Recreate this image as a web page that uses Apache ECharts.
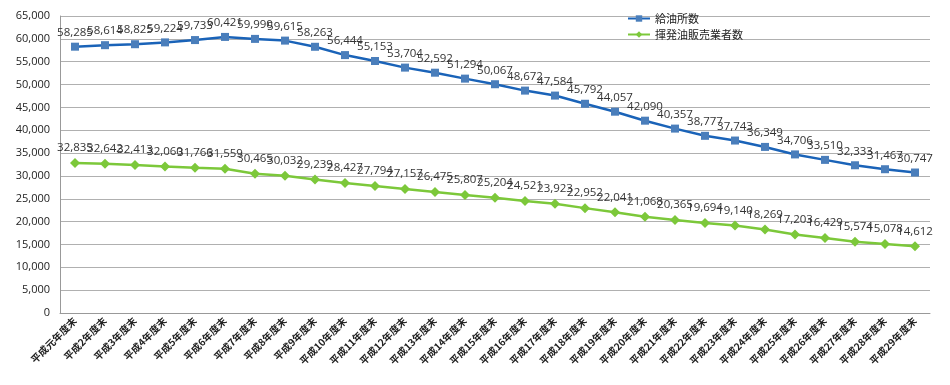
<!DOCTYPE html>
<html><head><meta charset="utf-8">
<script src="https://cdn.jsdelivr.net/npm/echarts@6/dist/echarts.min.js"></script>
<style>html,body{margin:0;padding:0;background:#fff}#c{width:950px;height:385px}</style>
</head><body><div id="c"></div>
<script>
const categories = ['平成元年度末','平成2年度末','平成3年度末','平成4年度末','平成5年度末','平成6年度末','平成7年度末','平成8年度末','平成9年度末','平成10年度末','平成11年度末','平成12年度末','平成13年度末','平成14年度末','平成15年度末','平成16年度末','平成17年度末','平成18年度末','平成19年度末','平成20年度末','平成21年度末','平成22年度末','平成23年度末','平成24年度末','平成25年度末','平成26年度末','平成27年度末','平成28年度末','平成29年度末'];
const stations = [58285,58614,58825,59224,59733,60421,59990,59615,58263,56444,55153,53704,52592,51294,50067,48672,47584,45792,44057,42090,40357,38777,37743,36349,34706,33510,32333,31467,30747];
const sellers = [32835,32642,32413,32060,31766,31559,30465,30032,29239,28427,27794,27157,26475,25807,25204,24521,23923,22952,22041,21068,20365,19694,19140,18269,17203,16429,15574,15078,14612];
const seriesNames = ['給油所数','揮発油販売業者数'];

const font = '"Noto Sans CJK JP", "Open Sans", sans-serif';
const chart = echarts.init(document.getElementById('c'), null, {renderer:'canvas'});
const lbl = {show:true, position:'top', distance:4, fontSize:11.5, color:'#333', fontFamily:'"Open Sans", sans-serif',
  formatter: p => p.value.toLocaleString('en-US')};
chart.setOption({
  animation:false,
  textStyle:{fontFamily:font},
  grid:{left:60, right:20, top:16, bottom:72},
  legend:{orient:'vertical', left:622, top:8, itemGap:5, itemWidth:22, itemHeight:8,
    textStyle:{fontSize:11, color:'#222', fontFamily:font}, data:seriesNames},
  xAxis:{type:'category', data:categories, boundaryGap:true,
    axisLine:{lineStyle:{color:'#999'}}, axisTick:{lineStyle:{color:'#999'}},
    axisLabel:{rotate:45, fontSize:10, color:'#222', fontWeight:'bold', interval:0, margin:6, fontFamily:font}},
  yAxis:{type:'value', min:0, max:65000, interval:5000,
    axisLine:{show:true, lineStyle:{color:'#999'}},
    splitLine:{lineStyle:{color:'#b0b0b0'}},
    axisLabel:{fontSize:11, color:'#222', margin:10, formatter:v=>v.toLocaleString('en-US'), fontFamily:'"Open Sans", sans-serif'}},
  series:[
    {name:seriesNames[0], type:'line', data:stations, symbol:'rect', symbolSize:8,
     lineStyle:{color:'#1a63b8', width:2.5}, itemStyle:{color:'#4a7ebb'}, label:lbl},
    {name:seriesNames[1], type:'line', data:sellers, symbol:'diamond', symbolSize:10,
     lineStyle:{color:'#7cc83a', width:2.5}, itemStyle:{color:'#7cc83a'}, label:lbl}
  ]
});
</script></body></html>
